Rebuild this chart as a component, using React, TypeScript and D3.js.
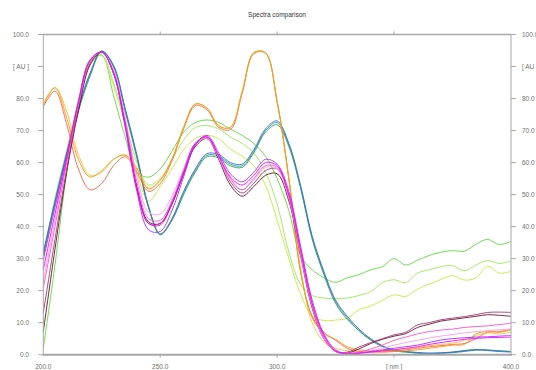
import * as d3 from "d3";

// sampling grid of the spectra, nm
const wavelengths = d3.range(200, 401, 5);

const yTicks = [0, 10, 20, 30, 40, 50, 60, 70, 80, 90, 100];
const yTickLabels = ["0.0", "10.0", "20.0", "30.0", "40.0", "50.0", "60.0", "70.0", "80.0", "[ AU ]", "100.0"];
const xTicks = [200, 250, 300, 350, 400];
const xTickLabels = ["200.0", "250.0", "300.0", "[ nm ]", "400.0"];

// green group
const green = [2, 28, 57, 79, 92, 93.5, 81, 68, 57, 55.5, 58, 63.5, 69.5, 72.5, 73.3, 72.5, 70.5, 68.5, 66, 62, 55, 45, 31, 26.5, 24, 22.6, 24, 25, 26.5, 27.5, 30, 28, 29.5, 31, 32, 32.5, 32.3, 34.5, 36, 34.4, 35.4];
const lightGreen = [31, 49, 64, 79, 91, 93.5, 85, 73, 60, 53, 55, 61, 67, 71, 71.5, 70.5, 68, 66, 63, 57, 47, 32, 22, 18.5, 17.7, 17.5, 17.7, 18.5, 19.7, 22.5, 23.4, 22.5, 25.5, 26.5, 27.5, 27.8, 26.2, 28, 29.4, 28.5, 29.3];
const yellowGreen = [30, 48, 63, 78.5, 90.5, 93.5, 84, 72, 57, 48, 52.5, 58, 64, 67.5, 68.5, 67.5, 64.2, 62, 59, 53, 42, 30, 19, 12, 10.7, 10.8, 11.4, 14, 15.2, 17, 18.7, 18.2, 20.5, 22, 23.5, 24.7, 23.3, 24, 27.6, 25.5, 26];

// blue group
const blue = [32, 48, 63, 77, 88, 94.8, 90.5, 77, 62.5, 46, 37.5, 42.5, 51, 58, 62.8, 62.5, 60, 59.5, 64, 70.5, 73, 66, 53, 37, 26, 17, 12, 8, 5, 2.8, 1.4, 1, 0.7, 0.5, 0.6, 0.8, 1.2, 1.6, 1.3, 1, 0.8];
const teal = [31.5, 47.5, 62.5, 76.5, 87.5, 94.8, 90, 76.5, 62, 46.5, 37.5, 42, 50.5, 57.5, 62.3, 62, 59.5, 59, 63.5, 70, 72.5, 65.5, 52.5, 36.5, 25.5, 16.5, 11.5, 7.5, 4.8, 2.7, 1.3, 0.9, 0.5, 0.4, 0.5, 0.6, 1, 1.4, 1.5, 1.2, 1];
const darkGreen = [31, 47, 62, 76, 87, 94.8, 90, 76, 61.5, 46, 37.8, 42, 50, 57, 61.8, 61.5, 59, 58.5, 63, 69.5, 71.8, 65, 52, 36, 25, 16, 11, 7.5, 4.5, 2.5, 1.2, 0.8, 0.5, 0.3, 0.4, 0.8, 1.3, 1.6, 1.4, 1.2, 1];

// orange group
const yellowOrange = [78.5, 83.5, 76, 62.5, 56, 57, 61, 62.4, 58.5, 52, 54.5, 61, 71, 78.3, 77, 71.5, 71, 82, 94.3, 94.3, 79, 55, 27, 10, 4, 2, 1.2, 0.8, 1, 1.2, 1.5, 1.8, 2.2, 2.8, 3.2, 3.6, 4.5, 6, 6.8, 6.5, 7];
const orange = [78, 83.3, 74, 61, 55.5, 57.5, 61, 62.3, 58, 51.8, 54.5, 61, 71, 78.3, 77, 71.5, 71, 82, 94.3, 94.3, 79, 55, 26, 11.5, 6.5, 4.8, 2.5, 1.5, 1.2, 1, 1, 1.2, 1.5, 2, 2.5, 3, 3.2, 6.5, 7.2, 7, 7.7];
const redOrange = [77.5, 82.3, 72, 58, 51.5, 53.5, 59, 61.8, 57, 51, 53.5, 60.5, 70.5, 77.8, 76.5, 71, 70.3, 81.5, 94, 94.2, 79, 55, 26, 12, 7, 4.5, 2, 1, 0.8, 0.8, 1, 1.5, 2, 2.5, 2.8, 3.2, 3.5, 5, 7, 7.2, 8];

// magenta group
const violet = [29.6, 46, 62, 79, 92, 94.5, 88, 71, 51, 39, 38.5, 45, 55.5, 65.5, 68.5, 63, 56.5, 54, 57, 61, 59.5, 51, 34, 17, 6.5, 1.5, 0.3, 0.5, 1, 1.5, 2, 2.5, 3, 3.8, 4.6, 5, 5.3, 5.5, 5.6, 5.8, 6];
const magenta = [26.5, 44, 61, 79, 92, 94.5, 88, 72, 52, 41, 41, 47.5, 57, 66, 68, 62, 55.5, 53, 56, 60, 59, 50, 33, 16, 6, 1.2, 0.3, 0.4, 0.8, 1.2, 1.5, 2, 2.5, 3.2, 3.8, 4.3, 4.8, 5.1, 5.3, 5.4, 5.5];
const pink = [20.9, 40, 60, 78, 91.5, 94.5, 88.5, 73, 54, 42.5, 42, 48, 57.5, 66, 68, 62, 55, 51.5, 55, 59, 58.5, 49.5, 32, 15.5, 5.5, 1, 0.5, 0.8, 1.8, 3, 4.5, 5.5, 6.5, 7.2, 7.7, 8, 8.5, 8.8, 9, 9.4, 9.8];
const lightPink = [23, 42, 61, 78.5, 91.5, 94.5, 89, 74, 56, 44.5, 44, 49.5, 58, 66, 67.5, 61.5, 54.5, 51.5, 54.5, 58.5, 58, 49, 31.5, 15, 5, 1, 0.4, 0.6, 1.2, 2, 3, 3.8, 4.5, 5.2, 5.8, 6.3, 6.8, 7.2, 7.5, 7.8, 8];
const maroon = [13, 36, 58, 77, 91, 94.5, 88, 72, 52, 41, 40.5, 47, 56.5, 65.5, 68, 62, 54, 50.5, 53.5, 57.5, 58, 49.5, 32, 15, 5, 1, 0.8, 2.4, 3.8, 5, 6.2, 7, 9.3, 10, 10.9, 11.4, 11.9, 12.5, 13.2, 13.3, 13.2];
const darkMaroon = [7.2, 33, 57, 76, 90.5, 94.5, 88, 72.5, 52.5, 41.5, 41, 47, 56.5, 65, 67.5, 61, 53, 49.5, 52.5, 56, 56.5, 48, 31, 14.5, 5, 1, 0.5, 1.8, 3.5, 4.8, 5.8, 6.6, 8.5, 9.5, 10.5, 11, 11.5, 12, 12.5, 12.3, 12];

const series = [
  { values: green, color: "#5fd93a" },
  { values: lightGreen, color: "#98ea5a" },
  { values: yellowGreen, color: "#c4ea3c" },
  { values: darkGreen, color: "#2f9f55" },
  { values: teal, color: "#2f9a9a" },
  { values: blue, color: "#3a68d0" },
  { values: redOrange, color: "#ff6040" },
  { values: yellowOrange, color: "#f7c040" },
  { values: orange, color: "#ee9a10" },
  { values: darkMaroon, color: "#661133" },
  { values: maroon, color: "#a03870" },
  { values: lightPink, color: "#ff99ee" },
  { values: pink, color: "#ff4fc8" },
  { values: violet, color: "#9a33ff" },
  { values: magenta, color: "#ff00ff" },
];

const width = 536;
const height = 370;
const margin = { top: 34.5, right: 25, bottom: 15.3, left: 43.3 };

export default function App() {
  const x = d3.scaleLinear().domain([200, 400]).range([margin.left, width - margin.right]);
  const y = d3.scaleLinear().domain([0, 100]).range([height - margin.bottom, margin.top]);

  const line = d3
    .line<number>()
    .x((_, i) => x(wavelengths[i]))
    .y((d) => y(d))
    .curve(d3.curveCatmullRom.alpha(0.5));

  const axisColor = "#a8a8a8";
  const labelColor = "#707070";
  const font = "'Liberation Sans', Arial, sans-serif";

  return (
    <svg
      width={width}
      height={height}
      style={{ position: "absolute", left: 0, top: 0, background: "#fff" }}
      fontFamily={font}
    >
      <text x={277} y={17} textAnchor="middle" fontSize={6.5} fill="#333">
        Spectra comparison
      </text>

      <g>
        {series.map((s, i) => (
          <path key={i} d={line(s.values) ?? ""} fill="none" stroke={s.color} strokeWidth={0.9} />
        ))}
      </g>

      {/* frame */}
      <line x1={x(200)} x2={x(400)} y1={y(100)} y2={y(100)} stroke={axisColor} strokeWidth={1.5} />
      <line x1={x(200) - 1} x2={x(400) + 1} y1={y(0)} y2={y(0)} stroke={axisColor} strokeWidth={2} />
      <line x1={x(200)} x2={x(200)} y1={y(100)} y2={y(0)} stroke={axisColor} strokeWidth={1} />
      <line x1={x(400)} x2={x(400)} y1={y(100)} y2={y(0)} stroke={axisColor} strokeWidth={1} />

      {/* y axes, right labels run off the edge as in the original */}
      {yTicks.map((t, i) => (
        <g key={t}>
          <line x1={x(200) - 5} x2={x(200)} y1={y(t)} y2={y(t)} stroke={axisColor} />
          <line x1={x(400)} x2={x(400) + 5} y1={y(t)} y2={y(t)} stroke={axisColor} />
          <text x={29} y={y(t) + 2.3} textAnchor="end" fontSize={6.5} fill={labelColor}>
            {yTickLabels[i]}
          </text>
          <text x={522} y={y(t) + 2.3} textAnchor="start" fontSize={6.5} fill={labelColor}>
            {yTickLabels[i]}
          </text>
        </g>
      ))}

      {/* x axes */}
      {xTicks.map((t, i) => (
        <g key={t}>
          {t > 200 && t < 400 && (
            <>
              <line x1={x(t)} x2={x(t)} y1={y(100)} y2={y(100) - 3} stroke={axisColor} />
              <line x1={x(t)} x2={x(t)} y1={y(0)} y2={y(0) + 3} stroke={axisColor} />
            </>
          )}
          <text x={x(t)} y={369} textAnchor="middle" fontSize={6.5} fill={labelColor}>
            {xTickLabels[i]}
          </text>
        </g>
      ))}
    </svg>
  );
}
